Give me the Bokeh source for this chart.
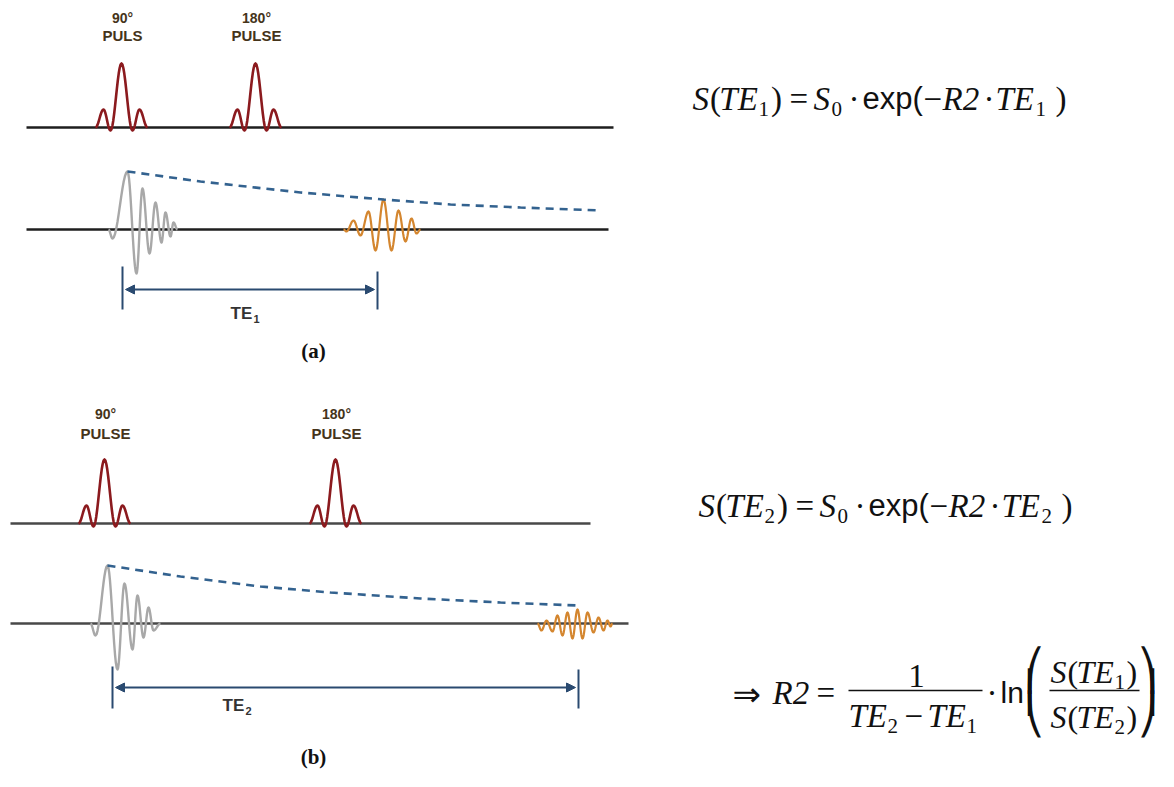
import numpy as np
from bokeh.plotting import figure
from bokeh.models import Range1d, Arrow, NormalHead
from bokeh.core.properties import value
from bokeh.embed import file_html
from bokeh.resources import INLINE

# ---------------- data (pixel units, y grows downward) ----------------
panel_labels = ["(a)", "(b)"]
panel_label_x = [313, 313]
panel_label_y = [350, 756]

rf_axis_y = [127, 523]
rf_axis_x0 = [26, 10]
rf_axis_x1 = [613, 590]
sig_axis_y = [229, 623]
sig_axis_x0 = [26, 10]
sig_axis_x1 = [608, 628]

pulse90_x = [121, 104]
pulse180_x = [255, 335]
label90_lines = [["90°", "PULS"], ["90°", "PULSE"]]
label180_lines = [["180°", "PULSE"], ["180°", "PULSE"]]
label_row1_y = [17, 413]
label_row2_y = [35, 433]

# sinc-like RF pulse: extrema offsets and heights
pulse_dx = [-26, -18, -11, 0, 11, 18, 26]
pulse_amp = [0, 18, -3, 64, -3, 18, 0]

# free induction decay (grey) and echo (orange): extrema x and amplitudes
fid_a_x = [108, 112, 127, 136, 142, 149, 155, 161, 165, 170, 173, 177]
fid_a_amp = [0, -9, 58, -44, 41, -24, 27, -13, 17, -7, 7, 0]
fid_b_x = [90, 95, 107, 117, 124, 132, 137, 143, 148, 153, 160]
fid_b_amp = [0, -12, 58, -46, 40, -26, 28, -14, 16, -7, 0]
echo_a_x = [343, 346, 353, 360, 368, 375, 383, 391, 398, 405, 411, 416, 420]
echo_a_amp = [0, -2, 9, -6, 18, -21, 30, -21, 19, -12, 11, -4, 0]
echo_b_x = [537, 541, 546, 552, 557, 562, 567, 572, 577, 582, 587, 593, 598, 603, 607, 610, 612]
echo_b_amp = [0, -7, 3, -8, 8, -12, 11, -15, 14, -15, 11, -9, 6, -7, 3, -3, 0]

# dashed T2 envelope
env_a_x = [127, 200, 300, 383, 450, 520, 600]
env_a_y = [171, 181, 192, 199, 204, 207, 210]
env_b_x = [107, 180, 260, 330, 420, 500, 577]
env_b_y = [565, 576, 586, 592, 598, 602, 605]

# TE brackets
te_sub = ["1", "2"]
te_x0 = [122, 112]
te_x1 = [377, 578]
te_arrow_y = [289, 687]
te_tick_top0 = [266, 666]
te_tick_top1 = [271, 669]
te_tick_bot = [309, 708]
te_label_x = [230, 222]
te_label_y = [313, 705]

# equations (left x, vertical centre of capitals)
eq_origin_x = [692, 698]
eq_origin_y = [98, 505]
eq_sub = ["1", "2"]

# ---------------- styles ----------------
SERIF = "Liberation Serif"
SANS = "Liberation Sans"
PULSE_COL = "#8B1A1E"
FID_COL = "#A8A8A8"
ECHO_COL = "#D4862F"
ENV_COL = "#33628F"
NAVY = "#2A4A70"
LABEL_COL = "#45341A"
AXIS_COLS = ["#1E1E1E", "#484848"]
TXT = "#111111"

p = figure(width=1158, height=771, x_range=Range1d(0, 1158), y_range=Range1d(771, 0),
           x_axis_type=None, y_axis_type=None, toolbar_location=None,
           output_backend="svg", min_border=0, outline_line_color=None)
p.background_fill_color = "white"
p.border_fill_color = "white"


def wave(xs, amps, base, n=12):
    X, Y = [], []
    for i in range(len(xs) - 1):
        t = np.linspace(0, 1, n, endpoint=False)
        s = (1 - np.cos(np.pi * t)) / 2
        X.extend(xs[i] + (xs[i + 1] - xs[i]) * t)
        Y.extend(base - (amps[i] + (amps[i + 1] - amps[i]) * s))
    X.append(xs[-1])
    Y.append(base - amps[-1])
    return X, Y


def txt(x, y, s, size, font=SERIF, style="normal", color=TXT, align="left"):
    p.text(x=[x], y=[y], text=[s], text_font=value(font), text_font_size=f"{size}px",
           text_font_style=style, text_color=color, text_align=align, text_baseline="middle")


fids = [(fid_a_x, fid_a_amp), (fid_b_x, fid_b_amp)]
echoes = [(echo_a_x, echo_a_amp), (echo_b_x, echo_b_amp)]
envs = [(env_a_x, env_a_y), (env_b_x, env_b_y)]

for k in range(2):
    # axes lines
    p.line([rf_axis_x0[k], rf_axis_x1[k]], [rf_axis_y[k]] * 2, line_color=AXIS_COLS[k], line_width=2.5)
    p.line([sig_axis_x0[k], sig_axis_x1[k]], [sig_axis_y[k]] * 2, line_color=AXIS_COLS[k], line_width=2.5)

    # RF pulses
    for cx in (pulse90_x[k], pulse180_x[k]):
        X, Y = wave([cx + d for d in pulse_dx], pulse_amp, rf_axis_y[k])
        p.line(X, Y, line_color=PULSE_COL, line_width=2.6, line_join="round")

    # pulse labels
    for cx, lines in ((pulse90_x[k], label90_lines[k]), (pulse180_x[k], label180_lines[k])):
        txt(cx + 1, label_row1_y[k], lines[0], 14, SANS, "bold", LABEL_COL, "center")
        txt(cx + 1, label_row2_y[k], lines[1], 15, SANS, "bold", LABEL_COL, "center")

    # FID and echo
    X, Y = wave(fids[k][0], fids[k][1], sig_axis_y[k])
    p.line(X, Y, line_color=FID_COL, line_width=2.4, line_join="round")
    X, Y = wave(echoes[k][0], echoes[k][1], sig_axis_y[k])
    p.line(X, Y, line_color=ECHO_COL, line_width=2.2, line_join="round")

    # envelope
    p.line(envs[k][0], envs[k][1], line_color=ENV_COL, line_width=2.6, line_dash="8 6")

    # TE bracket
    p.segment(x0=[te_x0[k], te_x1[k]], y0=[te_tick_top0[k], te_tick_top1[k]],
              x1=[te_x0[k], te_x1[k]], y1=[te_tick_bot[k], te_tick_bot[k]],
              line_color=NAVY, line_width=2)
    p.add_layout(Arrow(start=NormalHead(size=9, fill_color=NAVY, line_color=NAVY),
                       end=NormalHead(size=9, fill_color=NAVY, line_color=NAVY),
                       x_start=te_x0[k] + 3, y_start=te_arrow_y[k],
                       x_end=te_x1[k] - 3, y_end=te_arrow_y[k],
                       line_color=NAVY, line_width=2))
    txt(te_label_x[k], te_label_y[k], "TE", 17, SANS, "bold", "#333333")
    txt(te_label_x[k] + 23, te_label_y[k] + 5, te_sub[k], 11, SANS, "bold", "#333333")

    # panel label
    txt(panel_label_x[k], panel_label_y[k], panel_labels[k], 21, SERIF, "bold", TXT, "center")


# ---------------- equations ----------------
def s_te(sub, size):
    f = size / 32.0
    return [("S", 0, 0, size, SERIF, "italic"), ("(", 17 * f, 0, size, SERIF, "normal"),
            ("TE", 26 * f, 0, size, SERIF, "italic"), (sub, 64 * f, 10, 21, SERIF, "normal"),
            (")", 76 * f, 0, size, SERIF, "normal")]


def put(tokens, ox, oy):
    for s, dx, dy, size, font, style in tokens:
        txt(ox + dx, oy + dy, s, size, font, style)


for k in range(2):
    toks = s_te(eq_sub[k], 33) + [
        ("=", 97, 0, 33, SERIF, "normal"), ("S", 121, 0, 33, SERIF, "italic"),
        ("0", 139, 10, 21, SERIF, "normal"), ("·", 156, 0, 33, SERIF, "normal"),
        ("exp(", 170, 0, 31, SANS, "normal"), ("−", 231, 0, 33, SERIF, "normal"),
        ("R2", 250, 0, 33, SERIF, "italic"), ("·", 291, 0, 33, SERIF, "normal"),
        ("TE", 303, 0, 33, SERIF, "italic"), (eq_sub[k], 343, 10, 21, SERIF, "normal"),
        (")", 363, 0, 33, SERIF, "normal")]
    put(toks, eq_origin_x[k], eq_origin_y[k])

# R2 = 1/(TE2 - TE1) * ln(S(TE1)/S(TE2))
txt(732, 693, "⇒", 34, "DejaVu Sans")
txt(772, 692, "R2", 33, SERIF, "italic")
txt(816, 692, "=", 33)
txt(916, 675, "1", 33, SERIF, "normal", TXT, "center")
p.segment(x0=[848], y0=[690], x1=[982], y1=[690], line_color=TXT, line_width=1.6)
put([("TE", 0, 0, 33, SERIF, "italic"), ("2", 39, 10, 21, SERIF, "normal"),
     ("−", 56, 0, 33, SERIF, "normal"), ("TE", 79, 0, 33, SERIF, "italic"),
     ("1", 118, 10, 21, SERIF, "normal")], 848, 715)
txt(986, 692, "·", 33)
txt(1000, 692, "ln", 30, SANS)
# tall parentheses built from bracket pieces
for piece, yy in (("⎛", 669), ("⎜", 691), ("⎝", 713)):
    txt(1024, yy, piece, 40, "DejaVu Sans")
put(s_te("1", 32), 1050, 671)
p.segment(x0=[1049], y0=[690], x1=[1139], y1=[690], line_color=TXT, line_width=1.6)
put(s_te("2", 32), 1050, 716)
for piece, yy in (("⎞", 669), ("⎟", 691), ("⎠", 713)):
    txt(1157, yy, piece, 40, "DejaVu Sans", "normal", TXT, "right")

open("out.html", "w").write(file_html(p, INLINE))
